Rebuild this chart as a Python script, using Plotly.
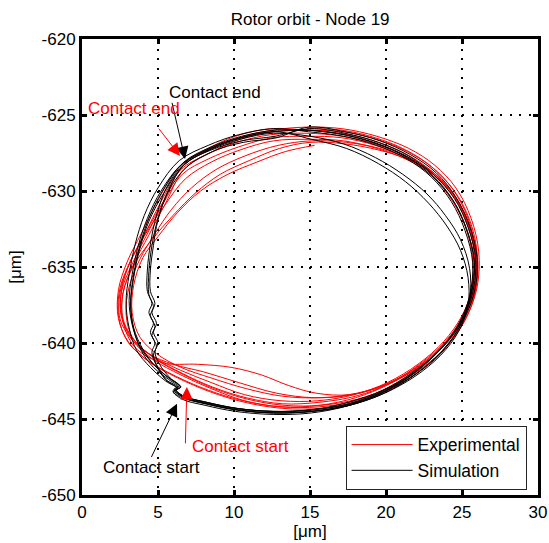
import plotly.graph_objects as go

# Measured rotor orbit at node 19: nine revolutions, clockwise, each starting at the top
exp_x = [
    14.8, 17.1, 19.3, 21.3, 23.0, 24.4, 25.4, 25.9, 25.8, 25.1, 23.9, 22.2, 20.2, 18.0, 15.6, 13.1, 10.7, 8.5, 6.5, 4.7, 3.3, 2.6, 2.6, 3.2, 4.2, 5.4, 6.6, 8.3, 10.3, 12.5,
    14.7, 17.1, 19.4, 21.5, 23.2, 24.6, 25.6, 26.1, 26.0, 25.3, 24.1, 22.4, 20.4, 18.1, 15.7, 13.2, 10.7, 8.4, 6.3, 4.5, 3.1, 2.4, 2.4, 3.0, 3.9, 5.0, 6.4, 8.1, 10.1, 12.4,
    14.9, 17.2, 19.4, 21.4, 23.1, 24.5, 25.5, 26.0, 25.9, 25.1, 23.8, 22.0, 19.9, 17.6, 15.4, 13.6, 11.8, 9.8, 7.6, 5.3, 3.5, 2.7, 2.7, 3.4, 4.4, 5.5, 6.7, 8.4, 10.4, 12.6,
    14.7, 17.0, 19.2, 21.2, 22.9, 24.3, 25.3, 25.8, 25.7, 25.0, 23.8, 22.1, 20.1, 17.9, 15.5, 13.1, 10.7, 8.5, 6.5, 4.7, 3.3, 2.5, 2.5, 3.1, 4.1, 5.2, 6.5, 8.2, 10.2, 12.4,
    14.8, 17.1, 19.3, 21.3, 23.0, 24.4, 25.4, 25.9, 25.8, 25.1, 23.9, 22.2, 20.2, 18.0, 15.6, 13.2, 10.8, 8.6, 6.6, 4.8, 3.4, 2.6, 2.6, 3.3, 4.2, 5.3, 6.6, 8.3, 10.3, 12.5,
    14.8, 17.1, 19.3, 21.3, 23.0, 24.4, 25.4, 25.9, 25.8, 25.1, 23.9, 22.2, 20.2, 18.0, 15.6, 13.1, 10.6, 8.3, 6.2, 4.4, 3.0, 2.4, 2.5, 3.2, 4.2, 5.4, 6.8, 8.5, 10.4, 12.6,
    15.0, 17.2, 19.4, 21.3, 22.9, 24.2, 25.2, 25.7, 25.6, 24.9, 23.7, 22.0, 20.0, 17.8, 15.3, 12.8, 10.3, 8.0, 6.0, 4.4, 3.3, 2.9, 3.1, 3.8, 4.8, 5.9, 7.2, 8.8, 10.7, 12.9,
    15.1, 17.4, 19.6, 21.5, 23.1, 24.5, 25.5, 26.0, 25.9, 25.2, 24.0, 22.3, 20.3, 18.1, 15.7, 13.3, 10.9, 8.7, 6.7, 4.9, 3.5, 2.7, 2.7, 3.4, 4.6, 6.0, 7.5, 9.1, 11.0, 13.0,
    15.0, 17.3, 19.5, 21.4, 23.1, 24.4, 25.4, 25.9, 25.8, 25.1, 24.0, 22.3, 20.3, 18.1, 15.7, 13.2, 10.8, 8.5, 6.5, 4.9, 3.8, 3.3, 3.4, 4.0, 5.0, 6.3, 7.8, 9.6, 11.5, 13.4, 15.3,
]
exp_y = [
    -625.9, -626.0, -626.5, -627.3, -628.4, -629.9, -631.8, -634.0, -636.2, -638.2, -639.9, -641.4, -642.7, -643.6, -644.1, -644.2, -643.8, -643.0, -642.1, -641.1, -639.8, -638.2, -636.5, -634.6, -632.7, -630.6, -628.4, -627.3, -626.5, -626.0,
    -625.8, -625.9, -626.4, -627.2, -628.3, -629.8, -631.8, -634.0, -636.3, -638.3, -640.1, -641.7, -643.0, -643.9, -644.3, -644.3, -643.9, -643.2, -642.3, -641.3, -640.0, -638.4, -636.5, -634.6, -632.8, -630.6, -628.4, -627.3, -626.4, -625.9,
    -626.0, -626.1, -626.6, -627.4, -628.5, -630.0, -631.9, -634.1, -636.4, -638.4, -640.2, -641.7, -642.8, -643.4, -643.3, -642.8, -642.1, -641.6, -641.4, -641.3, -640.3, -638.6, -636.7, -634.8, -632.9, -630.8, -628.6, -627.5, -626.6, -626.1,
    -626.0, -626.2, -626.7, -627.5, -628.6, -630.0, -631.9, -634.1, -636.3, -638.2, -639.9, -641.4, -642.6, -643.4, -643.8, -643.8, -643.4, -642.6, -641.8, -640.9, -639.8, -638.4, -636.7, -634.8, -632.9, -630.7, -628.6, -627.6, -626.8, -626.3,
    -626.2, -626.4, -626.9, -627.7, -628.7, -630.2, -632.0, -634.2, -636.4, -638.3, -640.0, -641.5, -642.7, -643.5, -643.9, -644.0, -643.6, -642.9, -642.0, -641.0, -639.8, -638.3, -636.6, -634.8, -633.0, -630.9, -628.9, -627.9, -627.1, -626.5,
    -626.4, -626.5, -627.0, -627.8, -628.8, -630.3, -632.1, -634.3, -636.5, -638.4, -640.1, -641.6, -642.9, -643.8, -644.2, -644.2, -643.8, -643.1, -642.2, -641.2, -639.9, -638.2, -636.4, -634.6, -632.8, -631.0, -629.2, -628.1, -627.3, -626.7,
    -626.6, -626.7, -627.2, -627.9, -628.9, -630.4, -632.3, -634.4, -636.6, -638.5, -640.2, -641.6, -642.7, -643.4, -643.6, -643.3, -642.6, -641.9, -641.4, -640.7, -639.6, -638.1, -636.3, -634.5, -632.8, -631.2, -629.8, -628.6, -627.7, -627.0,
    -626.7, -626.8, -627.2, -627.9, -628.9, -630.3, -632.3, -634.3, -636.5, -638.5, -640.2, -641.7, -642.9, -643.7, -644.1, -644.1, -643.7, -643.0, -642.1, -641.1, -639.9, -638.4, -636.7, -634.9, -633.2, -631.6, -630.1, -628.9, -628.0, -627.2,
    -626.8, -626.9, -627.3, -627.9, -628.8, -630.2, -632.3, -634.4, -636.5, -638.4, -640.0, -641.5, -642.6, -643.3, -643.6, -643.5, -643.0, -642.3, -641.6, -640.7, -639.6, -638.0, -636.2, -634.4, -633.0, -631.4, -630.0, -628.9, -628.1, -627.4, -627.0,
]

# Simulated rotor orbit at node 19: seven revolutions, with rub contact on the left side
sim_x = [
    15.0, 17.3, 19.5, 21.5, 23.1, 24.4, 25.3, 25.8, 25.6, 24.8, 23.5, 21.8, 19.8, 17.5, 15.1, 12.6, 10.2, 8.2, 6.7, 6.1, 6.4, 5.6, 4.6, 3.8, 3.3, 3.1, 3.3, 3.7, 4.3, 5.2, 6.6, 8.5, 10.5, 12.7,
    15.1, 17.4, 19.5, 21.3, 22.8, 24.0, 24.9, 25.4, 25.4, 24.8, 23.6, 21.9, 19.9, 17.6, 15.2, 12.7, 10.3, 8.3, 6.8, 6.2, 6.5, 5.8, 5.1, 4.8, 5.0, 4.7, 4.9, 4.6, 4.8, 4.5, 4.5, 4.7, 5.0, 5.7, 6.9, 8.6, 10.6, 12.8,
    14.9, 17.3, 19.6, 21.6, 23.3, 24.6, 25.5, 26.0, 25.8, 25.0, 23.7, 22.0, 19.9, 17.6, 15.1, 12.6, 10.1, 8.1, 6.6, 6.0, 6.3, 5.5, 4.5, 3.6, 3.1, 2.9, 3.1, 3.5, 4.1, 5.0, 6.4, 8.3, 10.3, 12.6,
    14.9, 17.2, 19.4, 21.4, 23.0, 24.3, 25.2, 25.7, 25.5, 24.7, 23.4, 21.7, 19.7, 17.4, 15.0, 12.5, 10.1, 8.1, 6.6, 6.0, 6.3, 5.6, 5.0, 4.7, 4.9, 4.6, 4.8, 4.5, 4.7, 4.4, 4.4, 4.6, 5.0, 5.7, 6.7, 8.4, 10.4, 12.6,
    15.0, 17.2, 19.3, 21.1, 22.7, 23.9, 24.9, 25.5, 25.5, 24.8, 23.6, 21.9, 19.9, 17.6, 15.1, 12.6, 10.2, 8.2, 6.7, 6.1, 6.4, 5.7, 4.7, 3.9, 3.4, 3.2, 3.4, 3.8, 4.4, 5.4, 6.8, 8.5, 10.5, 12.7,
    15.0, 17.3, 19.5, 21.5, 23.1, 24.5, 25.4, 25.9, 25.7, 24.9, 23.6, 21.9, 19.9, 17.6, 15.1, 12.6, 10.2, 8.2, 6.7, 6.2, 6.5, 5.7, 4.8, 4.0, 3.4, 3.2, 3.4, 3.8, 4.4, 5.3, 6.7, 8.5, 10.5, 12.7,
    14.9, 17.2, 19.4, 21.4, 23.0, 24.4, 25.3, 25.8, 25.6, 24.8, 23.5, 21.8, 19.8, 17.5, 15.0, 12.5, 10.1, 8.1, 6.6, 6.0, 6.3, 5.5, 4.9, 4.6, 4.8, 4.5, 4.7, 4.4, 4.6, 4.3, 4.3, 4.5, 4.9, 5.6, 6.7, 8.4, 10.4, 12.6, 14.9,
]
sim_y = [
    -626.0, -626.3, -626.9, -627.8, -629.0, -630.6, -632.5, -634.6, -636.8, -638.8, -640.5, -641.9, -643.1, -643.9, -644.4, -644.5, -644.3, -643.9, -643.5, -643.0, -642.8, -642.2, -641.3, -640.2, -638.8, -637.2, -635.5, -633.6, -631.8, -630.0, -628.2, -627.2, -626.5, -626.1,
    -626.6, -627.2, -628.2, -629.4, -630.8, -632.3, -633.9, -635.7, -637.5, -639.2, -640.8, -642.2, -643.3, -644.1, -644.5, -644.6, -644.4, -644.0, -643.6, -643.1, -642.9, -642.3, -641.4, -640.6, -640.0, -639.3, -638.7, -638.0, -637.4, -636.6, -635.2, -633.6, -631.9, -630.0, -628.4, -627.4, -626.8, -626.5,
    -625.8, -626.1, -626.7, -627.6, -628.8, -630.4, -632.3, -634.5, -636.7, -638.7, -640.5, -642.0, -643.2, -644.1, -644.6, -644.7, -644.5, -644.1, -643.7, -643.2, -643.0, -642.5, -641.6, -640.5, -639.0, -637.3, -635.5, -633.5, -631.6, -629.8, -628.0, -627.0, -626.3, -625.9,
    -626.1, -626.4, -627.0, -627.9, -629.1, -630.7, -632.6, -634.7, -636.9, -638.9, -640.6, -642.1, -643.3, -644.1, -644.5, -644.6, -644.4, -644.0, -643.6, -643.2, -643.0, -642.5, -641.6, -640.8, -640.2, -639.5, -638.9, -638.2, -637.6, -636.8, -635.3, -633.6, -631.8, -629.9, -628.3, -627.3, -626.6, -626.2,
    -626.4, -626.9, -627.8, -628.9, -630.2, -631.6, -633.2, -635.1, -637.1, -639.0, -640.7, -642.1, -643.3, -644.1, -644.5, -644.6, -644.4, -644.0, -643.6, -643.1, -642.9, -642.4, -641.6, -640.5, -639.1, -637.5, -635.7, -633.8, -632.0, -630.1, -628.2, -627.3, -626.7, -626.4,
    -625.9, -626.2, -626.8, -627.7, -628.9, -630.5, -632.4, -634.5, -636.7, -638.7, -640.4, -641.9, -643.1, -644.0, -644.4, -644.5, -644.3, -643.9, -643.5, -643.1, -642.9, -642.3, -641.5, -640.4, -639.0, -637.3, -635.5, -633.6, -631.8, -630.0, -628.1, -627.1, -626.4, -626.0,
    -626.0, -626.3, -626.9, -627.8, -629.0, -630.6, -632.5, -634.6, -636.8, -638.8, -640.5, -642.0, -643.2, -644.0, -644.4, -644.5, -644.3, -643.9, -643.5, -643.1, -642.9, -642.4, -641.5, -640.6, -640.0, -639.3, -638.7, -638.0, -637.4, -636.6, -635.2, -633.5, -631.6, -629.7, -628.2, -627.2, -626.5, -626.1, -626.0,
]

x_ticks = [0, 5, 10, 15, 20, 25, 30]
y_ticks = [-650, -645, -640, -635, -630, -625, -620]

# Contact markers: (label, colour, tail x, tail y, head x, head y, label x, label y)
contact_notes = [
    ("Contact end", "#000000", 5.90, -624.1, 6.78, -627.9, 8.75, -623.5),
    ("Contact end", "#ff0000", 4.98, -625.8, 6.45, -627.7, 3.45, -624.6),
    ("Contact start", "#000000", 4.52, -647.6, 6.25, -644.0, 4.60, -648.2),
    ("Contact start", "#ff0000", 6.80, -646.7, 6.90, -642.9, 10.46, -646.8),
]

FONT = "Liberation Sans, Arial, Helvetica, sans-serif"

fig = go.Figure()
fig.add_trace(go.Scatter(
    x=exp_x, y=exp_y, mode="lines", name="Experimental",
    line=dict(color="#ff0000", width=1, shape="spline", smoothing=1.0),
))
fig.add_trace(go.Scatter(
    x=sim_x, y=sim_y, mode="lines", name="Simulation",
    line=dict(color="#000000", width=1, shape="spline", smoothing=1.0),
))

for text, color, tx, ty, hx, hy, lx, ly in contact_notes:
    fig.add_annotation(
        x=hx, y=hy, ax=tx, ay=ty, xref="x", yref="y", axref="x", ayref="y",
        text="", showarrow=True, arrowhead=2, arrowsize=2.5, arrowwidth=1,
        arrowcolor=color,
    )
    fig.add_annotation(
        x=lx, y=ly, xref="x", yref="y", text=text, showarrow=False,
        font=dict(family=FONT, size=17, color=color),
    )

axis_common = dict(
    showline=True, linewidth=3, linecolor="#000000", mirror="ticks",
    ticks="inside", ticklen=5, tickwidth=3, tickcolor="#000000",
    showgrid=True, gridcolor="#000000", gridwidth=2, griddash="2px,7.5px",
    zeroline=False, automargin=False,
    tickfont=dict(family=FONT, size=17, color="#000000"),
)

fig.update_xaxes(
    range=[0, 30], tickvals=x_ticks, ticktext=[str(v) for v in x_ticks],
    title=dict(text="[μm]", font=dict(family=FONT, size=17, color="#000000"), standoff=2),
    **axis_common,
)
fig.update_yaxes(
    range=[-650, -620], tickvals=y_ticks, ticktext=[str(v) for v in y_ticks],
    title=dict(text="[μm]", font=dict(family=FONT, size=17, color="#000000"), standoff=16),
    **axis_common,
)

fig.update_layout(
    width=549, height=543,
    margin=dict(l=82, r=11, t=39, b=48),
    paper_bgcolor="#ffffff", plot_bgcolor="#ffffff",
    title=dict(text="Rotor orbit - Node 19", x=0.565, xanchor="center",
               y=0.965, yanchor="middle",
               font=dict(family=FONT, size=17, color="#000000")),
    showlegend=True,
    legend=dict(
        x=0.578, y=0.152, xanchor="left", yanchor="top",
        bgcolor="#ffffff", bordercolor="#262626", borderwidth=1,
        font=dict(family=FONT, size=17.5, color="#000000"),
        itemwidth=61,
    ),
)

fig.write_html("out.html")
